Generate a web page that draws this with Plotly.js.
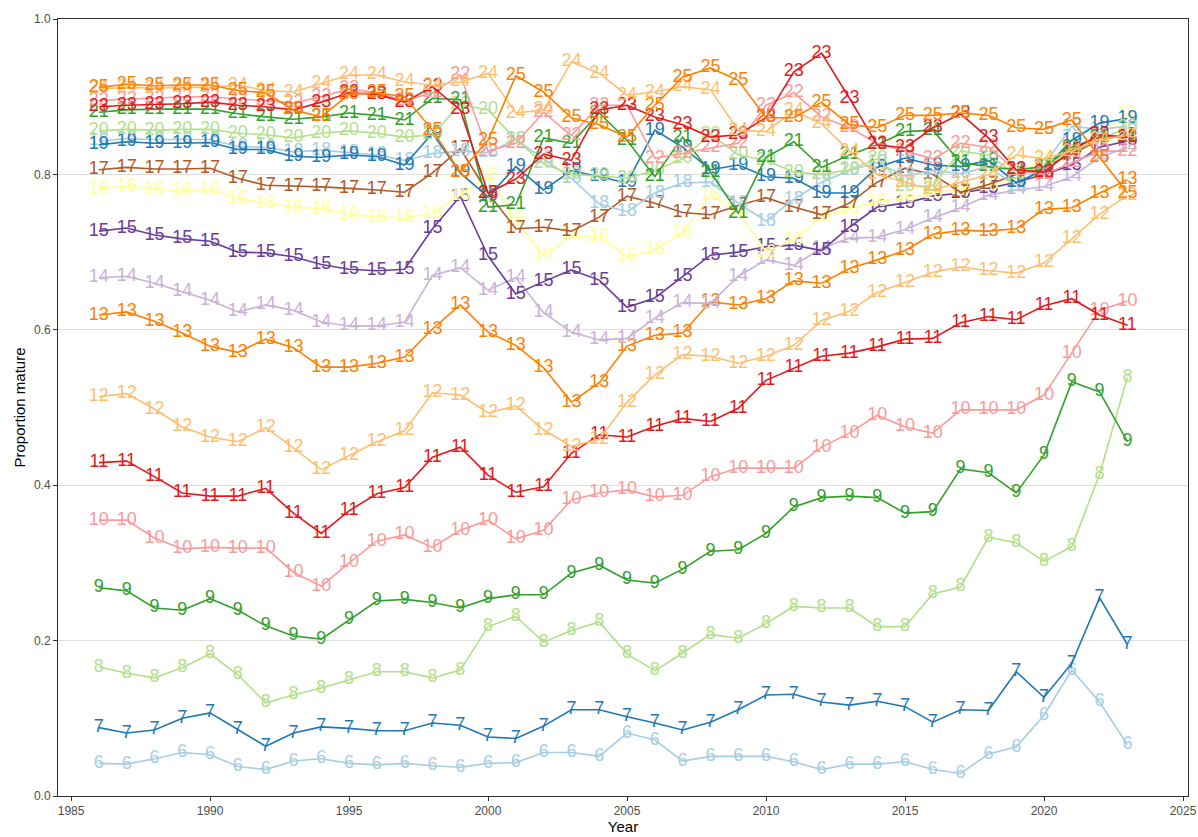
<!DOCTYPE html>
<html>
<head>
<meta charset="utf-8">
<script src="https://cdn.plot.ly/plotly-3.0.1.min.js"></script>
<style>html,body{margin:0;padding:0;background:#fff;}#chart{width:1198px;height:837px;}</style>
</head>
<body>
<div id="chart"></div>
<script>
const years = [];
for (let y = 1986; y <= 2023; y++) years.push(y);

const lengths = [6,7,8,9,10,11,12,13,14,15,16,17,18,19,20,21,22,23,24,25];

const s6 = [0.042,0.041,0.048,0.056,0.053,0.038,0.034,0.045,0.048,0.042,0.040,0.042,0.039,0.037,0.042,0.043,0.056,0.056,0.051,
            0.081,0.072,0.045,0.051,0.051,0.051,0.044,0.034,0.041,0.041,0.044,0.034,0.029,0.054,0.063,0.104,0.162,0.121,0.066];
const s7 = [0.088,0.081,0.085,0.100,0.107,0.085,0.064,0.081,0.089,0.087,0.084,0.084,0.094,0.091,0.076,0.074,0.090,0.111,0.111,
            0.102,0.094,0.085,0.095,0.111,0.130,0.131,0.121,0.117,0.122,0.115,0.095,0.111,0.110,0.160,0.127,0.171,0.255,0.195];
const s8 = [0.166,0.158,0.152,0.165,0.183,0.156,0.120,0.130,0.139,0.150,0.160,0.160,0.152,0.162,0.218,0.231,0.198,0.213,0.224,
            0.183,0.161,0.184,0.208,0.203,0.222,0.244,0.242,0.242,0.218,0.218,0.260,0.269,0.333,0.326,0.302,0.321,0.414,0.539];
const s9 = [0.268,0.264,0.242,0.239,0.254,0.239,0.219,0.206,0.202,0.227,0.251,0.253,0.249,0.242,0.254,0.259,0.259,0.287,0.297,
            0.278,0.274,0.292,0.315,0.317,0.338,0.372,0.384,0.386,0.384,0.364,0.366,0.421,0.416,0.390,0.439,0.533,0.520,0.456];
const s10 = [0.355,0.355,0.332,0.318,0.320,0.319,0.319,0.288,0.270,0.300,0.328,0.336,0.320,0.342,0.355,0.331,0.342,0.381,0.390,
             0.394,0.385,0.387,0.411,0.422,0.422,0.422,0.449,0.467,0.490,0.475,0.467,0.497,0.497,0.497,0.516,0.570,0.625,0.637];
const s11 = [0.429,0.431,0.411,0.390,0.386,0.386,0.396,0.364,0.338,0.367,0.389,0.397,0.436,0.449,0.413,0.391,0.398,0.441,0.465,
             0.462,0.476,0.486,0.482,0.499,0.535,0.551,0.566,0.570,0.578,0.588,0.589,0.609,0.617,0.613,0.631,0.640,0.619,0.606];
const s12 = [0.514,0.518,0.498,0.475,0.462,0.456,0.474,0.448,0.420,0.438,0.456,0.470,0.519,0.516,0.493,0.502,0.471,0.450,0.459,
             0.507,0.542,0.568,0.566,0.557,0.566,0.580,0.612,0.624,0.648,0.661,0.674,0.681,0.676,0.673,0.686,0.717,0.749,0.773];
const s13 = [0.619,0.623,0.611,0.596,0.579,0.571,0.588,0.577,0.552,0.552,0.557,0.565,0.601,0.632,0.597,0.580,0.551,0.507,0.532,
             0.579,0.593,0.596,0.636,0.632,0.640,0.663,0.660,0.679,0.690,0.702,0.723,0.728,0.727,0.730,0.755,0.757,0.776,0.793];
const s14 = [0.667,0.669,0.660,0.649,0.638,0.623,0.632,0.625,0.610,0.605,0.605,0.610,
             0.670,0.680,0.651,0.667,0.622,0.597,0.587,0.589,0.615,0.635,0.634,0.669,0.690,0.683,
             0.705,0.718,0.719,0.729,0.744,0.757,0.773,0.780,0.784,0.797,0.822,0.835];
const s15 = [0.727,0.731,0.722,0.717,0.714,0.700,0.699,0.694,0.684,0.678,0.676,0.678,
             0.730,0.772,0.695,0.646,0.662,0.677,0.664,0.629,0.641,0.669,0.696,0.700,0.707,0.709,
             0.702,0.732,0.758,0.763,0.772,0.776,0.782,0.790,0.800,0.812,0.835,0.843];
const s16 = [0.782,0.785,0.781,0.779,0.780,0.769,0.763,0.758,0.756,0.749,0.745,0.744,
             0.750,0.773,0.798,0.742,0.695,0.721,0.720,0.694,0.703,0.725,0.773,0.752,0.700,0.716,
             0.745,0.756,0.765,0.770,0.776,0.781,0.786,0.795,0.822,0.832,0.850,0.879];
const s17 = [0.806,0.809,0.807,0.807,0.808,0.795,0.786,0.785,0.784,0.782,0.780,0.777,
             0.802,0.833,0.776,0.730,0.732,0.727,0.745,0.772,0.763,0.751,0.748,0.760,0.770,0.758,
             0.748,0.763,0.790,0.808,0.800,0.777,0.787,0.800,0.810,0.826,0.845,0.850];
const s18 = [0.843,0.846,0.845,0.845,0.845,0.836,0.835,0.829,0.831,0.828,0.825,0.818,
             0.827,0.830,0.828,0.845,0.820,0.795,0.762,0.752,0.776,0.789,0.790,0.763,0.740,0.768,
             0.790,0.805,0.815,0.798,0.805,0.801,0.810,0.785,0.812,0.862,0.858,0.862];
const s19 = [0.838,0.842,0.840,0.840,0.841,0.832,0.832,0.823,0.822,0.825,0.823,0.812,
             0.853,0.802,0.771,0.810,0.780,0.805,0.797,0.789,0.857,0.835,0.806,0.812,0.797,0.795,
             0.776,0.776,0.809,0.821,0.812,0.810,0.818,0.789,0.806,0.844,0.866,0.872];
const s20 = [0.856,0.858,0.857,0.858,0.858,0.853,0.851,0.847,0.853,0.856,0.853,0.848,
             0.851,0.890,0.883,0.845,0.814,0.800,0.798,0.795,0.805,0.820,0.852,0.825,0.818,0.803,
             0.800,0.806,0.820,0.785,0.785,0.830,0.825,0.800,0.810,0.830,0.845,0.860];
const s21 = [0.880,0.883,0.884,0.884,0.884,0.878,0.874,0.871,0.874,0.879,0.876,0.870,
             0.898,0.896,0.758,0.761,0.847,0.840,0.879,0.844,0.797,0.848,0.803,0.750,0.822,0.842,
             0.809,0.825,0.838,0.855,0.857,0.815,0.810,0.806,0.810,0.835,0.848,0.848];
const s22 = [0.895,0.897,0.898,0.900,0.900,0.897,0.895,0.892,0.900,0.910,0.905,0.895,
             0.905,0.928,0.830,0.840,0.880,0.850,0.889,0.889,0.821,0.827,0.834,0.840,0.889,0.905,
             0.874,0.860,0.840,0.830,0.820,0.840,0.835,0.805,0.800,0.815,0.830,0.830];
const s23 = [0.887,0.889,0.890,0.891,0.893,0.889,0.887,0.883,0.893,0.905,0.903,0.893,
             0.913,0.883,0.776,0.794,0.826,0.818,0.883,0.889,0.874,0.864,0.848,0.851,0.873,0.932,
             0.956,0.898,0.838,0.834,0.860,0.878,0.847,0.806,0.803,0.831,0.851,0.848];
const s24 = [0.910,0.912,0.911,0.912,0.912,0.915,0.908,0.906,0.917,0.928,0.928,0.919,
             0.915,0.919,0.930,0.879,0.883,0.945,0.930,0.902,0.906,0.913,0.909,0.857,0.855,0.882,
             0.865,0.830,0.800,0.790,0.780,0.790,0.800,0.825,0.820,0.830,0.845,0.850];
const s25 = [0.912,0.916,0.914,0.915,0.915,0.908,0.905,0.883,0.874,0.903,0.905,0.900,
             0.857,0.803,0.844,0.927,0.906,0.873,0.864,0.848,0.889,0.925,0.937,0.921,0.873,0.873,
             0.893,0.864,0.860,0.876,0.876,0.879,0.876,0.860,0.858,0.870,0.822,0.776];

const seriesValues = [s6,s7,s8,s9,s10,s11,s12,s13,s14,s15,s16,s17,s18,s19,s20,s21,s22,s23,s24,s25];

const palette = ['#A6CEE3','#1F78B4','#B2DF8A','#33A02C','#FB9A99','#E31A1C',
                 '#FDBF6F','#FF7F00','#CAB2D6','#6A3D9A','#FFFF99','#B15928'];

const traces = lengths.map((L, i) => {
  const col = palette[i % palette.length];
  return {
    x: years,
    y: seriesValues[i],
    mode: 'lines+text',
    type: 'scatter',
    name: String(L),
    text: years.map(() => String(L)),
    textposition: 'middle center',
    textfont: {family: 'Liberation Sans, Arial, sans-serif', size: 18, color: col},
    line: {color: col, width: 1.6},
    cliponaxis: false,
    hoverinfo: 'x+y+name'
  };
});

const layout = {
  width: 1198,
  height: 837,
  margin: {l: 58, r: 10, t: 19, b: 41},
  paper_bgcolor: '#ffffff',
  plot_bgcolor: '#ffffff',
  showlegend: false,
  font: {family: 'Liberation Sans, Arial, sans-serif', color: '#000'},
  xaxis: {
    range: [1984.53, 2025.18],
    tickvals: [1985,1990,1995,2000,2005,2010,2015,2020,2025],
    ticktext: ['1985','1990','1995','2000','2005','2010','2015','2020','2025'],
    showgrid: false,
    zeroline: false,
    showline: true,
    mirror: true,
    linecolor: '#333333',
    linewidth: 1,
    ticks: 'outside',
    ticklen: 4,
    tickcolor: '#333333',
    tickfont: {size: 12, color: '#4d4d4d'},
    title: {text: 'Year', font: {size: 15, color: '#000'}, standoff: 2}
  },
  yaxis: {
    range: [0, 1],
    tickvals: [0, 0.2, 0.4, 0.6, 0.8, 1.0],
    ticktext: ['0.0','0.2','0.4','0.6','0.8','1.0'],
    showgrid: true,
    gridcolor: '#dddddd',
    gridwidth: 1,
    zeroline: false,
    showline: true,
    mirror: true,
    linecolor: '#333333',
    linewidth: 1,
    ticks: 'outside',
    ticklen: 4,
    tickcolor: '#333333',
    tickfont: {size: 12, color: '#4d4d4d'},
    title: {text: 'Proportion mature', font: {size: 15, color: '#000'}, standoff: 4}
  }
};

Plotly.newPlot('chart', traces, layout, {displayModeBar: false, staticPlot: true});
</script>
</body>
</html>
